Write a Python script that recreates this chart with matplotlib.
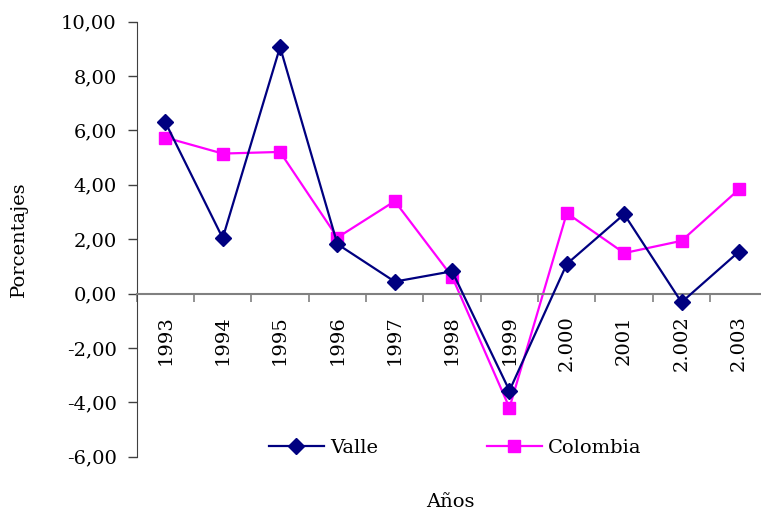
import matplotlib
matplotlib.use("Agg")
import matplotlib.pyplot as plt
from matplotlib.ticker import FuncFormatter

anios = ["1993", "1994", "1995", "1996", "1997", "1998", "1999",
         "2.000", "2001", "2.002", "2.003"]
valle = [6.30, 2.04, 9.07, 1.82, 0.44, 0.82, -3.57, 1.09, 2.92, -0.32, 1.54]
colombia = [5.74, 5.15, 5.21, 2.06, 3.40, 0.62, -4.20, 2.96, 1.49, 1.94, 3.83]

plt.rcParams['font.family'] = ['DejaVu Serif']
plt.rcParams['font.size'] = 14

fig = plt.figure(figsize=(7.61, 5.12), dpi=100)
ax = fig.add_axes([0.1796, 0.108, 0.829, 0.8496])

x = list(range(len(anios)))
ax.plot(x, valle, color='#000080', lw=1.6, marker='D', ms=8, label='Valle', zorder=3)
ax.plot(x, colombia, color='#FF00FF', lw=1.6, marker='s', ms=8.5, label='Colombia', zorder=2)

ax.set_xlim(-0.5, len(anios) - 0.5)
ax.set_ylim(-6, 10)
ax.set_yticks(range(-6, 11, 2))
ax.yaxis.set_major_formatter(FuncFormatter(lambda v, p: f"{v:.2f}".replace('.', ',')))
ax.tick_params(axis='y', direction='out', length=6.5, width=1, color='#404040', pad=8)

# eje x en el cero, marcas entre categorias
ax.spines['bottom'].set_position(('data', 0))
ax.spines['bottom'].set_color('#808080')
ax.spines['bottom'].set_linewidth(1.5)
ax.spines['left'].set_color('#404040')
ax.spines['top'].set_visible(False)
ax.spines['right'].set_visible(False)
ax.set_xticks([i - 0.5 for i in range(len(anios) + 1)])
ax.set_xticklabels([])
ax.tick_params(axis='x', which='major', direction='out', length=5.5, width=1.2, color='#808080')
ax.set_xticks(x, minor=True)
ax.set_xticklabels(anios, minor=True, rotation=90, va='top', ha='center')
ax.tick_params(axis='x', which='minor', length=0, pad=15.5)

ax.set_ylabel('Porcentajes')
ax.yaxis.set_label_coords(-0.172, 0.5)
ax.set_xlabel('Años', va='top')
ax.xaxis.set_label_coords(0.497, -0.083)

ax.legend(loc='center', bbox_to_anchor=(0.5046, 0.02), ncol=2, frameon=False,
          handlelength=2.85, handletextpad=0.3, columnspacing=5.6)

fig.savefig('out.png', dpi=100)
